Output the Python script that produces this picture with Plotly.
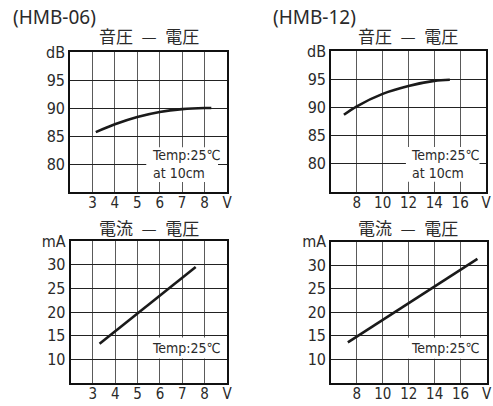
import plotly.graph_objects as go

# ---- data ----
spl06_v = [3.15, 4, 5, 6, 7, 8, 8.3]
spl06_db = [85.7, 87.1, 88.4, 89.3, 89.8, 90.0, 90.0]
spl12_v = [7.0, 8, 10, 12, 14, 15.2]
spl12_db = [88.7, 90.2, 92.4, 93.8, 94.7, 94.9]
cur06_v = [3.3, 7.6]
cur06_ma = [13.3, 29.5]
cur12_v = [7.3, 17.3]
cur12_ma = [13.6, 31.3]

x06_ticks = [2, 3, 4, 5, 6, 7, 8, 9]
x06_text = ["", "3", "4", "5", "6", "7", "8", "V"]
x12_ticks = [6, 8, 10, 12, 14, 16, 18]
x12_text = ["", "8", "10", "12", "14", "16", "V"]
db_ticks = [75, 80, 85, 90, 95, 100]
db_text = ["", "80", "85", "90", "95", "dB"]
ma_ticks = [5, 10, 15, 20, 25, 30, 35]
ma_text = ["", "10", "15", "20", "25", "30", "mA"]

W, H = 493, 406
FONT = "Noto Sans CJK JP"
NUMFONT = "DejaVu Sans Condensed, Noto Sans CJK JP"
TXT = "#2a2a2a"

def xd(a, b):
    return [a / W, b / W]

def yd(top, bottom):
    return [1 - bottom / H, 1 - top / H]

fig = go.Figure()

panels = [
    ("x", "y", spl06_v, spl06_db, xd(70, 227), yd(52, 192), [2, 9], [75, 100], x06_ticks, x06_text, db_ticks, db_text),
    ("x2", "y2", spl12_v, spl12_db, xd(331, 486), yd(51, 192), [6, 18], [75, 100], x12_ticks, x12_text, db_ticks, db_text),
    ("x3", "y3", cur06_v, cur06_ma, xd(70.5, 227), yd(241, 383), [2, 9], [5, 35], x06_ticks, x06_text, ma_ticks, ma_text),
    ("x4", "y4", cur12_v, cur12_ma, xd(331, 486.5), yd(241.5, 383), [6, 18], [5, 35], x12_ticks, x12_text, ma_ticks, ma_text),
]

for i, (xa, ya, xs, ys, xdom, ydom, xr, yr, xt, xtt, yt, ytt) in enumerate(panels):
    fig.add_trace(go.Scatter(x=xs, y=ys, xaxis=xa, yaxis=ya, mode="lines",
                             line=dict(color="#1a1a1a", width=2.6, shape="spline"),
                             showlegend=False, hoverinfo="skip"))
    n = "" if i == 0 else str(i + 1)
    fig.layout["xaxis" + n] = dict(
        domain=xdom, range=xr, anchor=ya, tickmode="array", tickvals=xt, ticktext=xtt,
        showgrid=True, gridcolor="#5a5a5a", gridwidth=1, zeroline=False,
        showline=True, linecolor="#111111", linewidth=1.6, mirror=True, ticks="",
        automargin=False, ticklabelstandoff=-4,
        tickfont=dict(family=NUMFONT, size=15, color=TXT), fixedrange=True)
    fig.layout["yaxis" + n] = dict(
        domain=ydom, range=yr, anchor=xa, tickmode="array", tickvals=yt, ticktext=ytt,
        showgrid=True, gridcolor="#222222", gridwidth=1, zeroline=False,
        showline=True, linecolor="#111111", linewidth=1.6, mirror=True, ticks="",
        automargin=False,
        tickfont=dict(family=NUMFONT, size=16, color=TXT), fixedrange=True)

boxes = [
    ("x", "y", 5.4, 8.6, 76.8, 83.0),
    ("x2", "y2", 11.8, 17.5, 76.8, 83.0),
    ("x3", "y3", 5.45, 8.6, 10.15, 14.6),
    ("x4", "y4", 11.75, 17.6, 10.15, 14.6),
]
for xa, ya, x0, x1, y0, y1 in boxes:
    fig.add_shape(type="rect", xref=xa, yref=ya, x0=x0, x1=x1, y0=y0, y1=y1,
                  fillcolor="white", line=dict(width=0), layer="between")

notes = [
    ("x", "y", 5.55, 80.0, "Temp:25℃<br>at 10cm"),
    ("x2", "y2", 12.05, 80.0, "Temp:25℃<br>at 10cm"),
    ("x3", "y3", 5.55, 12.4, "Temp:25℃"),
    ("x4", "y4", 12.0, 12.4, "Temp:25℃"),
]
for xa, ya, x, y, t in notes:
    fig.add_annotation(xref=xa, yref=ya, x=x, y=y, text=t, showarrow=False,
                       xanchor="left", yanchor="middle", align="left",
                       font=dict(family=NUMFONT, size=14, color=TXT))

titles = [
    (149, 35, "音圧\u2002—\u2002電圧"),
    (408, 35, "音圧\u2002—\u2002電圧"),
    (149, 227, "電流\u2002—\u2002電圧"),
    (408, 227, "電流\u2002—\u2002電圧"),
]
for x, y, t in titles:
    fig.add_annotation(xref="paper", yref="paper", x=x / W, y=1 - y / H, text=t,
                       showarrow=False, xanchor="center", yanchor="middle",
                       font=dict(family=FONT, size=17, color=TXT))

for x, t in [(11, "(HMB-06)"), (271, "(HMB-12)")]:
    fig.add_annotation(xref="paper", yref="paper", x=x / W, y=1 - 17 / H, text=t,
                       showarrow=False, xanchor="left", yanchor="middle",
                       font=dict(family="Noto Sans", size=19, color=TXT))

fig.update_layout(width=W, height=H, margin=dict(l=0, r=0, t=0, b=0, autoexpand=False),
                  paper_bgcolor="white", plot_bgcolor="white",
                  font=dict(family=FONT, color=TXT))

fig.write_html("out.html", config={"displayModeBar": False},
               post_script="document.body.style.margin='0';document.body.style.overflow='hidden';")
